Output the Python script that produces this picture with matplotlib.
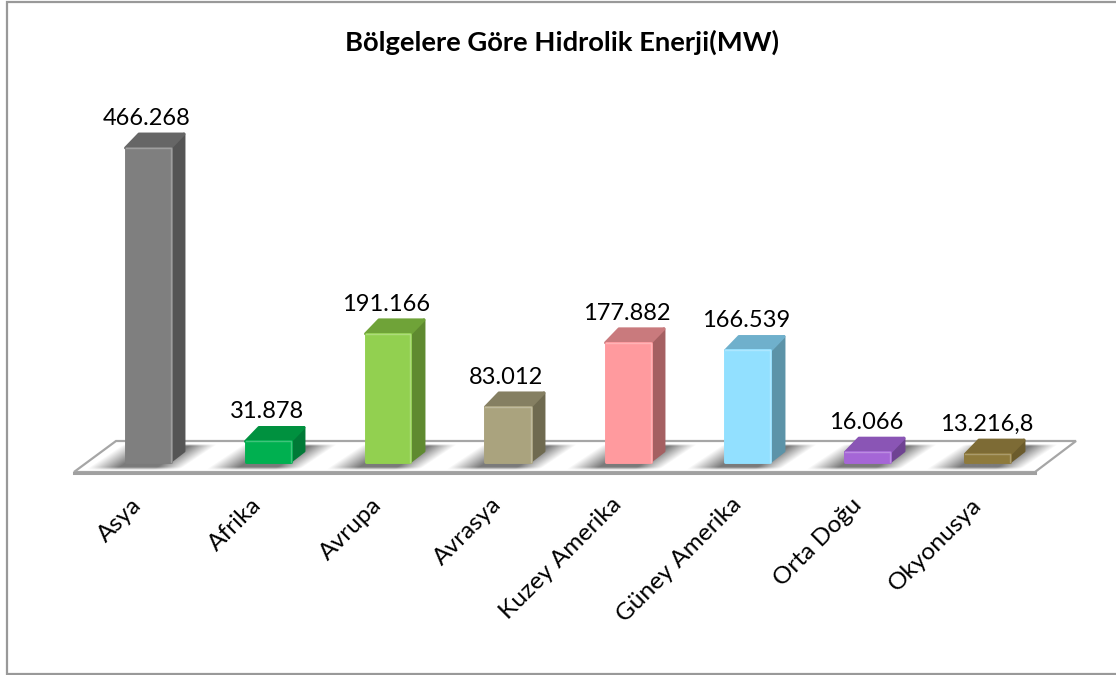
import numpy as np
import matplotlib
matplotlib.use("Agg")
import matplotlib.pyplot as plt
from matplotlib.patches import Polygon

regions = ["Asya", "Afrika", "Avrupa", "Avrasya", "Kuzey Amerika", "Güney Amerika", "Orta Doğu", "Okyonusya"]
power_mw = [466268, 31878, 191166, 83012, 177882, 166539, 16066, 13216.8]
value_labels = ["466.268", "31.878", "191.166", "83.012", "177.882", "166.539", "16.066", "13.216,8"]
title = "Bölgelere Göre Hidrolik Enerji(MW)"

front_colors = ["#7f7f7f", "#00b050", "#92d050", "#aaa37e", "#ff9a9e", "#92e0ff", "#a566d6", "#8e7a3c"]
top_colors = ["#666666", "#00913f", "#6fa338", "#857f62", "#c97a7d", "#6fb0cc", "#8a55b5", "#7d6b35"]
side_colors = ["#555555", "#007a37", "#5f8a30", "#6f6a50", "#a56062", "#5c93a8", "#6f4392", "#6b5b2c"]

plt.rcParams["font.family"] = ["Lato", "DejaVu Sans"]

W, H = 1116, 675
X0, STEP = 148, 120
Y0, PX_PER_MW = 463, 315 / 466268
BAR_W = 0.4
DX, DY = 13.5 / STEP, 14 / PX_PER_MW
INX, INY = 1.5 / STEP, 1.5 / PX_PER_MW


def fx(px):
    return (px - X0) / STEP


def fy(py):
    return (Y0 - py) / PX_PER_MW


fig = plt.figure(figsize=(W / 100, H / 100), dpi=100)
ax = fig.add_axes([0, 0, 1, 1])
ax.axis("off")

# chart frame, no right edge in the screenshot
ax.plot([fx(W), fx(7), fx(7), fx(W)], [fy(2), fy(2), fy(674), fy(674)],
        color="#999999", lw=1.6, solid_joinstyle="miter", zorder=1)

# floor
floor = Polygon([(fx(74), fy(472)), (fx(116), fy(441)), (fx(1076), fy(441)), (fx(1035), fy(472))],
                closed=True, facecolor="white", edgecolor="#a6a6a6", lw=1.6, zorder=2)
ax.add_patch(floor)
ax.plot([fx(74), fx(1035)], [fy(472.5), fy(472.5)], color="#a0a0a0", lw=2.2, zorder=2)

# soft shadows on the floor
for i in range(len(regions)):
    cx = X0 + i * STEP
    left, right = cx - 24, cx + 24
    xs = np.arange(left - 42, right + 44)
    ys = np.arange(444, 471)
    gx, gy = np.meshgrid(xs + 0.5, ys + 0.5)
    sx = gx - (468 - gy) * 1.5
    a = np.clip((sx - (left - 36)) / 30, 0, 1) * np.clip(1 - (sx - (right - 16)) / 26, 0, 1)
    a = a * np.clip((470 - gy) / 3, 0, 1) * np.clip((gy - 444) / 2, 0, 1) * 0.8
    rgba = np.zeros(a.shape + (4,))
    rgba[..., :3] = 0.35
    rgba[..., 3] = a
    im = ax.imshow(rgba, extent=(fx(xs[0]), fx(xs[-1] + 1), fy(ys[-1] + 1), fy(ys[0])),
                   origin="upper", aspect="auto", interpolation="bilinear", zorder=3)
    im.set_clip_path(floor)

# bars
for i, v in enumerate(power_mw):
    l, r = i - BAR_W / 2 + INX, i + BAR_W / 2 - INX
    t, b = v, INY
    side = [(r, b), (r + DX, DY * 0.85), (r + DX, t + DY), (r, t)]
    top = [(l, t), (l + DX, t + DY), (r + DX, t + DY), (r, t)]
    front = [(l, b), (l, t), (r, t), (r, b)]
    ax.add_patch(Polygon(side, closed=True, facecolor=side_colors[i], edgecolor=side_colors[i],
                         lw=2.1, joinstyle="round", zorder=4))
    ax.add_patch(Polygon(top, closed=True, facecolor=top_colors[i], edgecolor=top_colors[i],
                         lw=2.1, joinstyle="round", zorder=4))
    ax.add_patch(Polygon(front, closed=True, facecolor=front_colors[i], edgecolor=front_colors[i],
                         lw=2.1, joinstyle="round", zorder=5))
    ax.plot([l, r, r], [t, t, b], color="white", alpha=0.25, lw=1, zorder=6)
    ax.text(i - 1.5 / STEP, v + DY + 15.5 / PX_PER_MW, value_labels[i],
            ha="center", va="center", fontsize=17, color="black", zorder=7)
    ax.text(i - 17 / STEP, fy(494), regions[i], ha="right", va="top", rotation=45,
            rotation_mode="anchor", fontsize=17.6, color="black", zorder=7)

ax.text(fx(562), fy(42), title, ha="center", va="center", fontsize=19.7, fontweight="bold", color="black")

ax.set_xlim(fx(0), fx(W))
ax.set_ylim(fy(H), fy(0))
fig.savefig("out.png", dpi=100)
